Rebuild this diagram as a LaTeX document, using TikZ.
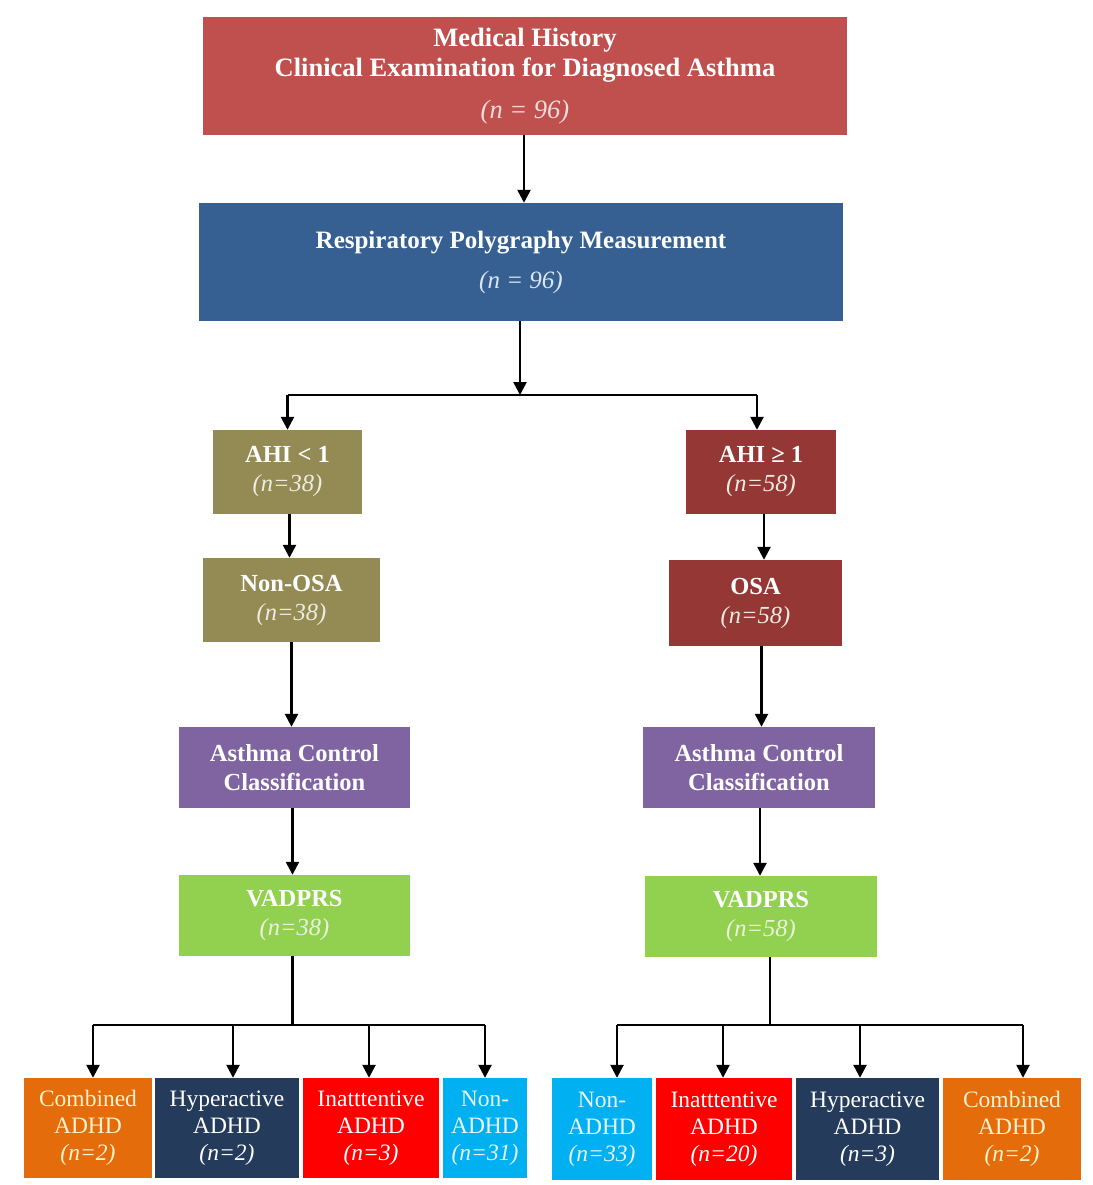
\documentclass[tikz,border=0pt]{standalone}
\usepackage{fontspec}
\setmainfont{Liberation Serif}
\usetikzlibrary{arrows.meta}
\definecolor{cTop}{HTML}{C0504D}
\definecolor{cBlue}{HTML}{366092}
\definecolor{cOlive}{HTML}{948A54}
\definecolor{cDred}{HTML}{953735}
\definecolor{cPurp}{HTML}{8064A2}
\definecolor{cGreen}{HTML}{92D050}
\definecolor{cOrange}{HTML}{E46C0A}
\definecolor{cNavy}{HTML}{243B5C}
\definecolor{cRed}{HTML}{FF0000}
\definecolor{cCyan}{HTML}{00B0F0}
\definecolor{tPink}{HTML}{F2DCDB}
\definecolor{tLblue}{HTML}{DCE6F2}
\definecolor{tCream}{HTML}{EEECE1}
\definecolor{tLgreen}{HTML}{EBF1DE}
\definecolor{tYel}{HTML}{FFF2CC}
\definecolor{tCyan}{HTML}{E6F6FC}
\begin{document}
\begin{tikzpicture}[x=1pt,y=-1pt,
  box/.style={rectangle, inner sep=0pt, align=center, text=white, draw=none},
  big/.style={box, font=\fontsize{26.5}{30}\selectfont\bfseries},
  big2/.style={box, font=\fontsize{25}{30}\selectfont\bfseries},
  mid/.style={box, font=\fontsize{24.5}{29}\selectfont\bfseries},
  small/.style={box, font=\fontsize{23.5}{27}\selectfont},
  ln/.style={line width=2.5pt, black},
  arr/.style={ln, -{Triangle[length=13pt,width=13pt]}}]
\useasboundingbox (0,0) rectangle (1092,1185);
\fill[white] (0,0) rectangle (1092,1185);

% top boxes
\node[big, fill=cTop, minimum width=644, minimum height=118] (top) at (525,76)
  {Medical History\\Clinical Examination for Diagnosed Asthma\\[12pt]{\color{tPink}\mdseries\itshape (n = 96)}};
\node[big2, fill=cBlue, minimum width=644, minimum height=118] (resp) at (521,262)
  {Respiratory Polygraphy Measurement\\[10pt]{\color{tLblue}\mdseries\itshape (n = 96)}};

% AHI level
\node[mid, fill=cOlive, minimum width=149, minimum height=84] (ahi1) at (287.5,472)
  {AHI < 1\\{\color{tCream}\mdseries\itshape (n=38)}};
\node[mid, fill=cDred, minimum width=150, minimum height=84] (ahi2) at (761,472)
  {AHI ≥ 1\\{\color{tCream}\mdseries\itshape (n=58)}};

\node[mid, fill=cOlive, minimum width=177, minimum height=84] (nonosa) at (291.5,600)
  {Non-OSA\\{\color{tCream}\mdseries\itshape (n=38)}};
\node[mid, fill=cDred, minimum width=173, minimum height=86] (osa) at (755.5,603)
  {OSA\\{\color{tCream}\mdseries\itshape (n=58)}};

\node[mid, fill=cPurp, minimum width=231, minimum height=81] (acc1) at (294.5,767.5)
  {Asthma Control\\Classification};
\node[mid, fill=cPurp, minimum width=232, minimum height=81] (acc2) at (759,767.5)
  {Asthma Control\\Classification};

\node[mid, fill=cGreen, minimum width=231, minimum height=81] (vad1) at (294.5,915.5)
  {VADPRS\\{\color{tLgreen}\mdseries\itshape (n=38)}};
\node[mid, fill=cGreen, minimum width=232, minimum height=81] (vad2) at (761,916.5)
  {VADPRS\\{\color{tLgreen}\mdseries\itshape (n=58)}};

% bottom boxes
\node[small, fill=cOrange, text=tYel, minimum width=128, minimum height=100] (comb1) at (88,1128)
  {Combined\\ADHD\\{\itshape (n=2)}};
\node[small, fill=cNavy, minimum width=144, minimum height=100] (hyp1) at (227,1128)
  {Hyperactive\\ADHD\\{\itshape (n=2)}};
\node[small, fill=cRed, minimum width=136, minimum height=100] (inat1) at (371,1128)
  {Inatttentive\\ADHD\\{\itshape (n=3)}};
\node[small, fill=cCyan, text=tCyan, minimum width=84, minimum height=100] (non1) at (485,1128)
  {Non-\\ADHD\\{\itshape (n=31)}};

\node[small, fill=cCyan, text=tCyan, minimum width=100, minimum height=102] (non2) at (602,1129)
  {Non-\\ADHD\\{\itshape (n=33)}};
\node[small, fill=cRed, minimum width=136, minimum height=102] (inat2) at (724,1129)
  {Inatttentive\\ADHD\\{\itshape (n=20)}};
\node[small, fill=cNavy, minimum width=143, minimum height=102] (hyp2) at (867.5,1129)
  {Hyperactive\\ADHD\\{\itshape (n=3)}};
\node[small, fill=cOrange, text=tYel, minimum width=138, minimum height=102] (comb2) at (1012,1129)
  {Combined\\ADHD\\{\itshape (n=2)}};

% connectors
\draw[arr] ([xshift=-1]top.south) -- ([xshift=-1]top.south |- resp.north);
\coordinate (hT) at (520,395);
\draw[arr] ([xshift=-1]resp.south) -- (hT);
\draw[ln] (ahi1.north |- hT) -- ([xshift=-4]ahi2.north |- hT);
\draw[arr] (ahi1.north |- hT) -- (ahi1.north);
\draw[arr] ([xshift=-4]ahi2.north |- hT) -- ([xshift=-4]ahi2.north);

\draw[arr] ([xshift=2]ahi1.south) -- ([xshift=2]ahi1.south |- nonosa.north);
\draw[arr] ([xshift=3]ahi2.south) -- ([xshift=3]ahi2.south |- osa.north);
\draw[arr] (nonosa.south) -- (nonosa.south |- acc1.north);
\draw[arr] ([xshift=6]osa.south) -- ([xshift=6]osa.south |- acc2.north);
\draw[arr] ([xshift=-2]acc1.south) -- ([xshift=-2]acc1.south |- vad1.north);
\draw[arr] ([xshift=1]acc2.south) -- ([xshift=1]acc2.south |- vad2.north);

% left fan
\coordinate (l1) at (93,1025);
\coordinate (l2) at (233,1025);
\coordinate (l3) at (369,1025);
\coordinate (l4) at (485,1025);
\draw[ln] ([xshift=-2]vad1.south) -- ([xshift=-2]vad1.south |- l1);
\draw[ln] (l1) -- (l4);
\draw[arr] (l1) -- (l1 |- comb1.north);
\draw[arr] (l2) -- (l2 |- hyp1.north);
\draw[arr] (l3) -- (l3 |- inat1.north);
\draw[arr] (l4) -- (l4 |- non1.north);

% right fan
\coordinate (r1) at (617,1025);
\coordinate (r2) at (723,1025);
\coordinate (r3) at (860,1025);
\coordinate (r4) at (1023,1025);
\coordinate (rT) at (770,1025);
\draw[ln] (vad2.south -| rT) -- (rT);
\draw[ln] (r1) -- (r4);
\draw[arr] (r1) -- (r1 |- non2.north);
\draw[arr] (r2) -- (r2 |- inat2.north);
\draw[arr] (r3) -- (r3 |- hyp2.north);
\draw[arr] (r4) -- (r4 |- comb2.north);
\end{tikzpicture}
\end{document}
